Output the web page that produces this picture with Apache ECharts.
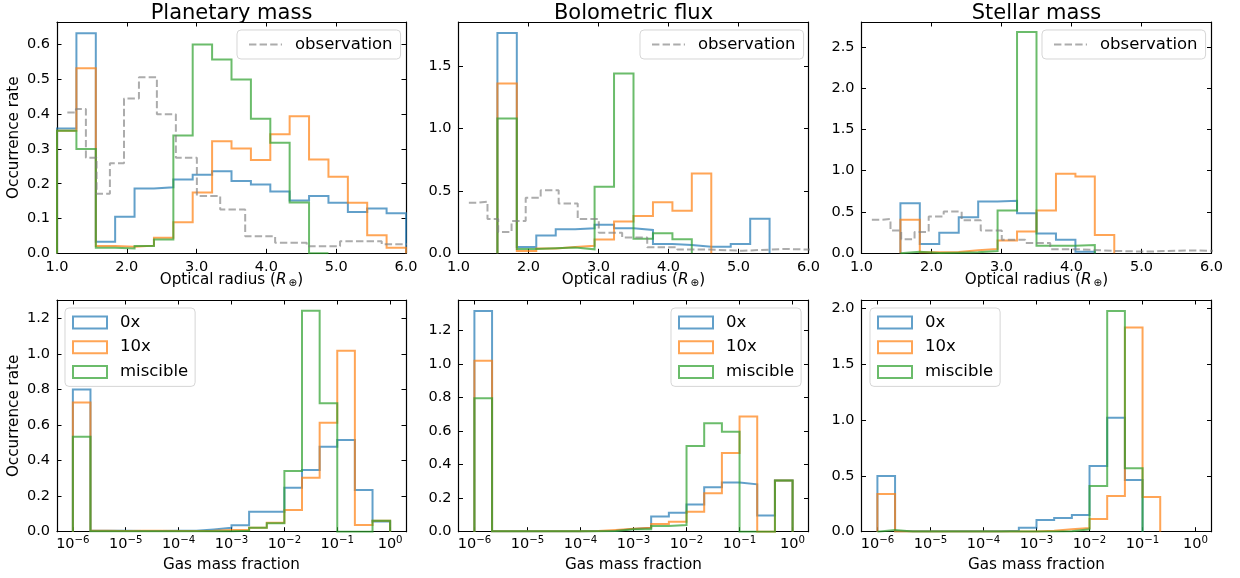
<!DOCTYPE html>
<html><head><meta charset="utf-8">
<script src="https://cdn.jsdelivr.net/npm/echarts@6/dist/echarts.min.js"></script>
<style>html,body{margin:0;padding:0;background:#fff}#c{width:1240px;height:578px}</style>
</head><body><div id="c"></div>
<script>
// ---------- data ----------
const panelTitles = ['Planetary mass', 'Bolometric flux', 'Stellar mass'];
const seriesNames = ['0x', '10x', 'miscible'];
const obsName = 'observation';

// optical radius bin edges (R_earth), shared by the model histograms
const radiusEdges = [1.0, 1.278, 1.556, 1.833, 2.111, 2.389, 2.667, 2.944, 3.222, 3.5, 3.778, 4.056, 4.333, 4.611, 4.889, 5.167, 5.444, 5.722, 6.0];
// gas mass fraction bin edges (log10)
const gasEdges = [-6, -5.667, -5.333, -5, -4.667, -4.333, -4, -3.667, -3.333, -3, -2.667, -2.333, -2, -1.667, -1.333, -1, -0.667, -0.333, 0];

// observation (dashed) histogram
const obsEdges = [1.148, 1.271, 1.414, 1.567, 1.758, 1.96, 2.174, 2.431, 2.703, 3.004, 3.338, 3.696, 4.125, 4.578, 5.055, 5.652, 6.3];
const obsValues = [0.405, 0.415, 0.275, 0.171, 0.259, 0.445, 0.506, 0.400, 0.275, 0.165, 0.126, 0.049, 0.030, 0.020, 0.035, 0.026];

// top row: occurrence rate vs optical radius (null = bin not drawn)
const radPlanetary0x  = [0.359, 0.633, 0.033, 0.105, 0.186, 0.190, 0.212, 0.226, 0.236, 0.208, 0.198, 0.178, 0.152, 0.165, 0.145, 0.119, 0.129, 0.115];
const radPlanetary10x = [0.352, 0.532, 0.021, 0.019, 0.022, 0.045, 0.089, 0.175, 0.322, 0.301, 0.268, 0.342, 0.394, 0.270, 0.220, 0.145, 0.052, 0.016];
const radPlanetaryMis = [0.352, 0.300, 0.016, 0.014, 0.021, 0.040, 0.339, 0.600, 0.557, 0.500, 0.387, 0.318, 0.146, 0.0];

const radFlux0x  = [null, null, 1.767, 0.050, 0.142, 0.192, 0.201, 0.228, 0.201, 0.187, 0.074, 0.067, 0.052, 0.052, 0.074, 0.278];
const radFlux10x = [null, null, 1.361, 0.018, 0.038, 0.050, 0.061, 0.110, 0.255, 0.300, 0.409, 0.342, 0.640];
const radFluxMis = [null, null, 1.081, 0.034, 0.040, 0.046, 0.032, 0.534, 1.441, 0.117, 0.160, 0.112];

const radStellar0x  = [null, null, 0.607, 0.112, 0.248, 0.437, 0.627, 0.635, 0.485, 0.240, 0.165, 0.018];
const radStellar10x = [null, null, 0.405, 0.012, 0.016, 0.036, 0.053, 0.154, 0.263, 0.518, 0.963, 0.930, 0.222];
const radStellarMis = [null, null, 0.020, 0.005, 0.006, 0.012, 0.028, 0.518, 2.678, 0.092, 0.090, 0.100];

// bottom row: occurrence rate vs gas mass fraction
const gasPlanetary0x  = [0.800, 0.005, 0.005, 0.004, 0.004, 0.005, 0.006, 0.013, 0.022, 0.036, 0.112, 0.112, 0.247, 0.347, 0.478, 0.516, 0.234, 0.057];
const gasPlanetary10x = [0.726, 0.005, 0.004, 0.005, 0.005, 0.004, 0.004, 0.005, 0.010, 0.010, 0.022, 0.050, 0.122, 0.304, 0.613, 1.018, 0.037, 0.062];
const gasPlanetaryMis = [0.534, 0.003, 0.003, 0.003, 0.003, 0.003, 0.003, 0.003, 0.003, 0.005, 0.022, 0.047, 0.341, 1.243, 0.722, 0.0, 0.0, 0.062];

const gasFlux0x  = [1.317, 0.003, 0.003, 0.003, 0.003, 0.003, 0.004, 0.006, 0.016, 0.024, 0.090, 0.113, 0.163, 0.265, 0.293, 0.283, 0.096, 0.306];
const gasFlux10x = [1.021, 0.003, 0.003, 0.003, 0.003, 0.003, 0.004, 0.010, 0.018, 0.024, 0.046, 0.060, 0.119, 0.229, 0.470, 0.687, 0.0, 0.306];
const gasFluxMis = [0.796, 0.003, 0.003, 0.003, 0.003, 0.003, 0.003, 0.004, 0.014, 0.014, 0.034, 0.040, 0.511, 0.647, 0.597, 0.0, 0.0, 0.306];

const gasStellar0x  = [0.498, 0.003, 0.003, 0.003, 0.003, 0.003, 0.003, 0.009, 0.036, 0.104, 0.122, 0.149, 0.588, 1.021, 0.463];
const gasStellar10x = [0.337, 0.002, 0.002, 0.002, 0.002, 0.002, 0.002, 0.002, 0.002, 0.009, 0.022, 0.033, 0.113, 0.320, 1.827, 0.310];
const gasStellarMis = [0.015, 0.002, 0.002, 0.002, 0.002, 0.002, 0.002, 0.002, 0.002, 0.002, 0.005, 0.022, 0.410, 1.976, 0.567];

// axis ranges and ticks
const radiusRange = [1.0, 6.0];
const gasRange = [-6.3, 0.3];
const radiusTicks = [1, 2, 3, 4, 5, 6];
const gasTicks = [-6, -5, -4, -3, -2, -1, 0];
const yMaxes = [0.665, 1.855, 2.80, 1.303, 1.383, 2.074];
const yTicks = [
  [0, 0.1, 0.2, 0.3, 0.4, 0.5, 0.6],
  [0, 0.5, 1.0, 1.5],
  [0, 0.5, 1.0, 1.5, 2.0, 2.5],
  [0, 0.2, 0.4, 0.6, 0.8, 1.0, 1.2],
  [0, 0.2, 0.4, 0.6, 0.8, 1.0, 1.2],
  [0, 0.5, 1.0, 1.5, 2.0]
];

// ---------- build ----------
const FONT = 'DejaVu Sans';
const COLORS = ['#1f77b4', '#ff7f0e', '#2ca02c'];
const OBS_COLOR = '#808080';

const gridLefts = [57, 458.5, 861.5];
const gridWidths = [349, 350, 350];
const rowTops = [22, 300];
const rowHeights = [231.3, 231.7];

const topData = [
  [radPlanetary0x, radPlanetary10x, radPlanetaryMis],
  [radFlux0x, radFlux10x, radFluxMis],
  [radStellar0x, radStellar10x, radStellarMis]
];
const bottomData = [
  [gasPlanetary0x, gasPlanetary10x, gasPlanetaryMis],
  [gasFlux0x, gasFlux10x, gasFluxMis],
  [gasStellar0x, gasStellar10x, gasStellarMis]
];

function histPath(edges, values) {
  let s = 0, e = values.length - 1;
  while (s < values.length && values[s] == null) s++;
  while (e >= 0 && values[e] == null) e--;
  const pts = [[edges[s], 0]];
  for (let i = s; i <= e; i++) {
    pts.push([edges[i], values[i]]);
    pts.push([edges[i + 1], values[i]]);
  }
  pts.push([edges[e + 1], 0]);
  return pts;
}
function stepPath(edges, values) {
  const pts = [];
  for (let i = 0; i < values.length; i++) {
    pts.push([edges[i], values[i]]);
    pts.push([edges[i + 1], values[i]]);
  }
  return pts;
}

const grids = [], xAxes = [], yAxes = [], series = [];
const axisLineStyle = { color: '#000', width: 1.2 };
const tickStyle = { color: '#000', width: 1 };

function gasLabel(v) {
  const e = Math.round(v);
  const s = e < 0 ? '\u2212' + (-e) : String(e);
  return '{b|10}{s|' + s + '}';
}

for (let row = 0; row < 2; row++) {
  for (let col = 0; col < 3; col++) {
    const g = row * 3 + col;
    grids.push({ left: gridLefts[col], top: rowTops[row], width: gridWidths[col], height: rowHeights[row] });
    const isGas = row === 1;
    const xr = isGas ? gasRange : radiusRange;
    const xt = isGas ? gasTicks : radiusTicks;
    const xName = isGas ? 'Gas mass fraction' : 'Optical radius ({i|R}{sub|\u2295})';
    xAxes.push({
      type: 'value', gridIndex: g, position: 'bottom', min: xr[0], max: xr[1],
      axisLine: { show: true, onZero: false, lineStyle: axisLineStyle },
      axisTick: { show: true, inside: true, length: 4.5, lineStyle: tickStyle, customValues: xt },
      axisLabel: {
        show: true, customValues: xt, margin: isGas ? 4 : 6, color: '#000', fontFamily: FONT, fontSize: 14.5,
        formatter: isGas ? gasLabel : (v => v.toFixed(1)),
        rich: isGas ? {
          b: { fontFamily: FONT, fontSize: 14.5, color: '#000' },
          s: { fontFamily: FONT, fontSize: 10.2, color: '#000', padding: [0, 0, 8, 0] }
        } : undefined
      },
      splitLine: { show: false },
      name: xName, nameLocation: 'middle', nameGap: isGas ? 26 : 18, nameMoveOverlap: false,
      nameTextStyle: {
        fontFamily: FONT, fontSize: 15.2, color: '#000',
        rich: {
          i: { fontFamily: FONT, fontSize: 15.2, fontStyle: 'italic', color: '#000' },
          sub: { fontFamily: FONT, fontSize: 10.5, color: '#000', padding: [6, 0, 0, 2] }
        }
      }
    });
    xAxes.push({
      type: 'value', gridIndex: g, position: 'top', min: xr[0], max: xr[1],
      axisLine: { show: true, onZero: false, lineStyle: axisLineStyle },
      axisTick: { show: true, inside: true, length: 4.5, lineStyle: tickStyle, customValues: xt },
      axisLabel: { show: false }, splitLine: { show: false }
    });
    const yt = yTicks[g];
    yAxes.push({
      type: 'value', gridIndex: g, position: 'left', min: 0, max: yMaxes[g],
      axisLine: { show: true, onZero: false, lineStyle: axisLineStyle },
      axisTick: { show: true, inside: true, length: 4.5, lineStyle: tickStyle, customValues: yt },
      axisLabel: { show: true, customValues: yt, margin: 7, color: '#000', fontFamily: FONT, fontSize: 14.5, formatter: v => v.toFixed(1) },
      splitLine: { show: false },
      name: col === 0 ? 'Occurrence rate' : '', nameLocation: 'middle', nameGap: 35, nameMoveOverlap: false,
      nameTextStyle: { fontFamily: FONT, fontSize: 15.2, color: '#000' }
    });
    yAxes.push({
      type: 'value', gridIndex: g, position: 'right', min: 0, max: yMaxes[g],
      axisLine: { show: true, onZero: false, lineStyle: axisLineStyle },
      axisTick: { show: true, inside: true, length: 4.5, lineStyle: tickStyle, customValues: yt },
      axisLabel: { show: false }, splitLine: { show: false }
    });

    const sets = isGas ? bottomData[col] : topData[col];
    const edges = isGas ? gasEdges : radiusEdges;
    for (let k = 0; k < 3; k++) {
      series.push({
        type: 'line', name: seriesNames[k], xAxisIndex: 2 * g, yAxisIndex: 2 * g,
        data: histPath(edges, sets[k]), symbol: 'none', showSymbol: false, silent: true,
        color: COLORS[k],
        lineStyle: { color: COLORS[k], width: 2, opacity: 0.7, cap: 'butt', join: 'miter' },
        animation: false, z: 2
      });
    }
    if (!isGas) {
      series.push({
        type: 'line', name: obsName, xAxisIndex: 2 * g, yAxisIndex: 2 * g,
        data: stepPath(obsEdges, obsValues), symbol: 'none', showSymbol: false, silent: true,
        color: OBS_COLOR,
        lineStyle: { color: OBS_COLOR, width: 2, opacity: 0.65, type: [7.4, 3.2] },
        animation: false, z: 3
      });
    }
  }
}

const legendBase = {
  selectedMode: false, backgroundColor: 'rgba(255,255,255,0.8)', borderColor: 'rgba(204,204,204,0.8)',
  borderWidth: 1, borderRadius: 4
};
const legends = [];
const obsLegendLefts = [237, 640, 1042];
obsLegendLefts.forEach(l => {
  legends.push(Object.assign({}, legendBase, {
    data: [{ name: obsName, itemStyle: { opacity: 0, color: 'rgba(0,0,0,0)', borderColor: 'rgba(0,0,0,0)' } }],
    left: l, top: 30, orient: 'horizontal',
    itemWidth: 33, itemHeight: 14, padding: [6, 8, 6, 11],
    textStyle: { fontFamily: FONT, fontSize: 16.5, color: '#000', lineHeight: 17, padding: [0, 0, 0, 8] }
  }));
});
const modelLegendLefts = [65, 671, 870];
modelLegendLefts.forEach(l => {
  legends.push(Object.assign({}, legendBase, {
    data: seriesNames.map((n, k) => ({
      name: n, icon: 'rect',
      itemStyle: { color: 'rgba(0,0,0,0)', borderColor: COLORS[k], borderWidth: 2, opacity: 0.7 }
    })),
    left: l, top: 308, orient: 'vertical',
    itemWidth: 34, itemHeight: 12, itemGap: 7.7, padding: [6, 7, 6, 7],
    textStyle: { fontFamily: FONT, fontSize: 16.5, color: '#000', lineHeight: 17, padding: [0, 0, 0, 8] }
  }));
});

const titleGraphics = panelTitles.map((t, c) => ({
  type: 'text', x: gridLefts[c] + gridWidths[c] / 2, y: 3,
  style: { text: t, fontFamily: FONT, fontSize: 21, fill: '#000', align: 'center', verticalAlign: 'top' },
  silent: true
}));

const chart = echarts.init(document.getElementById('c'), null, { renderer: 'canvas' });
chart.setOption({
  animation: false,
  backgroundColor: '#fff',
  textStyle: { fontFamily: FONT },
  grid: grids, xAxis: xAxes, yAxis: yAxes, series: series, legend: legends,
  graphic: titleGraphics
});
</script></body></html>
